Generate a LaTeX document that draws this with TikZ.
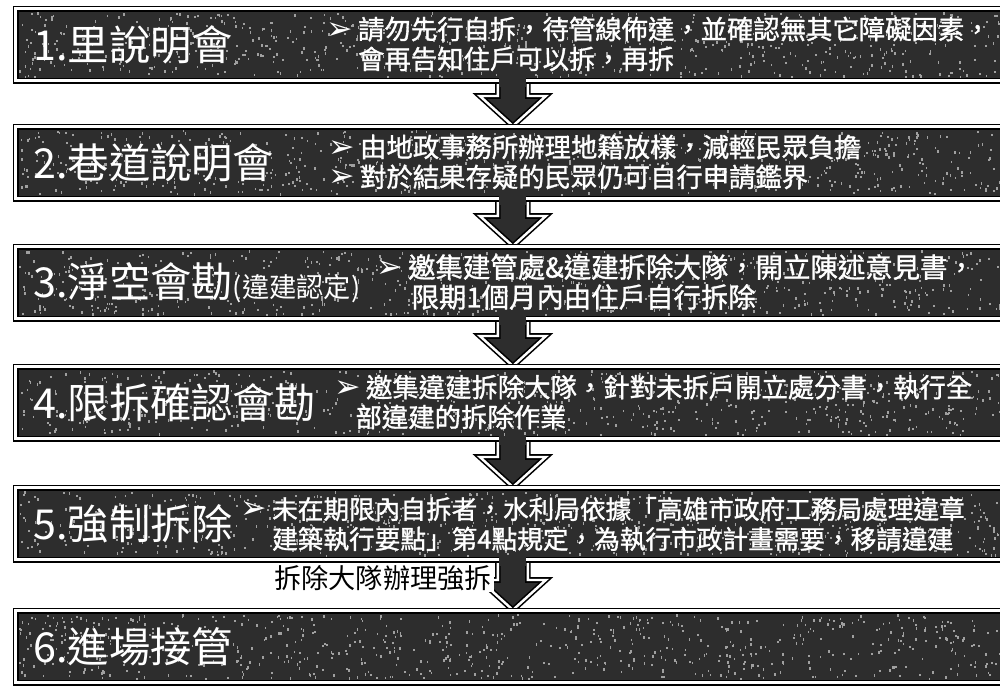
\documentclass[tikz,border=0pt]{standalone}
\usepackage{fontspec}
\newfontfamily\cjk{Noto Sans CJK TC}
\newfontfamily\cjkbf[FakeBold=1.2]{Noto Sans CJK TC}
\newfontfamily\dejavu{DejaVu Sans}
\usetikzlibrary{positioning, calc}
\definecolor{barfill}{RGB}{45,45,45}
\definecolor{speck}{RGB}{160,160,160}
\newcommand{\Pt}{{\dejavu\fontsize{18}{15}\selectfont\char"27A2}\hspace{3pt}}
\tikzset{
    rim/.style={draw=black, double=white, double distance=1.7pt, line width=1.1pt},
    thinrim/.style={draw=black, double=white, double distance=1.4pt, line width=0.9pt},
    bar/.style={rim, fill=barfill, anchor=north west, inner sep=0pt,
      minimum width=19.88cm, minimum height=1.44cm},
    title/.style={anchor=west, inner sep=0pt, text=white, font=\cjk\fontsize{23.5}{24}\selectfont},
    bullet/.style={anchor=west, inner sep=0pt, align=left, text=white,
      font=\cjkbf\fontsize{15}{17}\selectfont},
    note/.style={anchor=west, inner sep=1pt, fill=white, text=black,
      font=\cjk\fontsize{15.5}{17}\selectfont},
}
% block arrow hanging from one bar down to the next (drawn before the bars)
\newcommand{\Down}[2]{%
    \draw[thinrim, fill=barfill] ($(#1.south)+(-15,-8)$) -- ($(#2.north)+(-15,-30)$) -- ++(-18,0)
      -- (#2.north) -- ($(#2.north)+(33,-30)$) -- ++(-18,0) -- ($(#1.south)+(15,-8)$) -- cycle;
}
% opens the bar's lower rim where the arrow leaves it
\newcommand{\Open}[1]{%
    \fill[barfill] ($(#1.south)+(-13.6,-5)$) rectangle ($(#1.south)+(13.6,5)$);
}
\begin{document}
\begin{tikzpicture}[x=0.02cm, y=-0.02cm]
    \useasboundingbox (0,0) rectangle (1000,687);
    \clip (0,0) rectangle (1000,687);

    \coordinate (c1) at (15,8);
    \coordinate (c2) at (15,126);
    \coordinate (c3) at (15,246);
    \coordinate (c4) at (15,366);
    \coordinate (c5) at (15,487);
    \coordinate (c6) at (15,610);

    % arrows first, then the bars over them
    \foreach \i in {1,...,6}
      \path (c\i) node[bar, draw=none, fill=none] (bar\i) {};
    \Down{bar1}{bar2}
    \Down{bar2}{bar3}
    \Down{bar3}{bar4}
    \Down{bar4}{bar5}
    \Down{bar5}{bar6}

    \foreach \i in {1,...,6}
      \node[bar] at (c\i) {};
    \foreach \i in {1,...,5}
      {\Open{bar\i}}

    % photocopy grain
    \pgfmathsetseed{11}
    \foreach \top in {8,126,246,366,487,610}
      \foreach \k in {1,...,700}
        \fill[speck] ({19+rnd*985},{\top+4+rnd*64}) rectangle ++(1.6,2.4);

    \node[title] (t1) at ($(bar1.west)+(18,0)$) {1.里說明會};
    \node[bullet] (b1) at (326,44) {\Pt 請勿先行自拆，待管線佈達，並確認無其它障礙因素，\\\phantom{\Pt}會再告知住戶可以拆，再拆};

    \node[title] (t2) at ($(bar2.west)+(18,0)$) {2.巷道說明會};
    \node[bullet] (b2) at (328,162) {\Pt 由地政事務所辦理地籍放樣，減輕民眾負擔\\\Pt 對於結果存疑的民眾仍可自行申請鑑界};

    \node[title] (t3) at ($(bar3.west)+(18,0)$) {3.淨空會勘{\fontsize{15.5}{15}\selectfont(違建認定)}};
    \node[bullet, font=\cjkbf\fontsize{15.6}{17}\selectfont] (b3) at (376,282) {\Pt 邀集建管處\&違建拆除大隊，開立陳述意見書，\\\hspace{2pt}\phantom{\Pt}限期1個月內由住戶自行拆除};

    \node[title] (t4) at ($(bar4.west)+(18,0)$) {4.限拆確認會勘};
    \node[bullet] (b4) at (334,402) {\Pt 邀集違建拆除大隊，針對未拆戶開立處分書，執行全\\\hspace{-6pt}\phantom{\Pt}部違建的拆除作業};

    \node[title] (t5) at ($(bar5.west)+(18,0)$) {5.強制拆除};
    \node[bullet, font=\cjkbf\fontsize{14.6}{17}\selectfont] (b5) at (240,524) {\Pt 未在期限內自拆者，水利局依據「高雄市政府工務局處理違章\\\phantom{\Pt}建築執行要點」第4點規定，為執行市政計畫需要，移請違建};
    \node[note] (n5) at (272,578) {拆除大隊辦理強拆};

    \node[title] (t6) at ($(bar6.west)+(18,0)$) {6.進場接管};
\end{tikzpicture}
\end{document}
